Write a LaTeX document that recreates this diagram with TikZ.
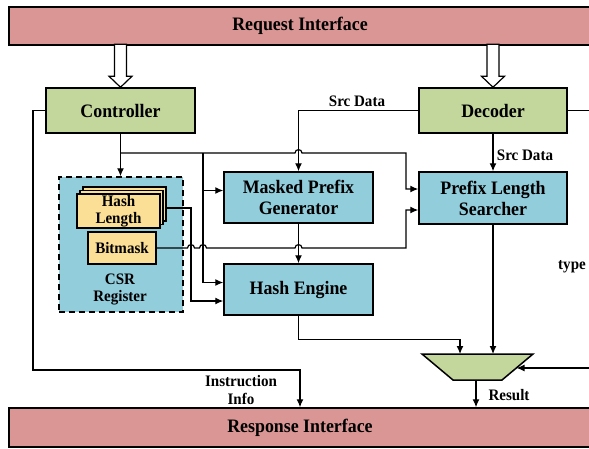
\documentclass[tikz,border=0pt]{standalone}
\usepackage{fontspec}
\setmainfont{Liberation Serif}[FakeStretch=0.94]
\usetikzlibrary{arrows.meta,calc}
\definecolor{ifpink}{HTML}{D99694}
\definecolor{ctlgreen}{HTML}{C3D69B}
\definecolor{unitblue}{HTML}{92CDDC}
\definecolor{regyellow}{HTML}{FBDF96}
\tikzset{
  bigtext/.style={font=\bfseries\fontsize{19}{21}\selectfont},
  smalltext/.style={font=\bfseries\fontsize{16}{17.5}\selectfont},
  block/.style={draw=black, line width=1.5pt, inner sep=0pt, align=center, bigtext},
  ifbar/.style={block, fill=ifpink, minimum width=582pt},
  ctlbox/.style={block, fill=ctlgreen, minimum width=149pt, minimum height=45pt},
  unitbox/.style={block, fill=unitblue, minimum width=149pt},
  regbox/.style={draw=black, line width=1.3pt, fill=regyellow, inner sep=0pt, align=center, smalltext},
  wire/.style={line width=1.2pt, line join=miter},
  conn/.style={wire, -{Latex[length=8pt,width=7pt]}},
  hollow/.style={draw=black, line width=1.2pt, fill=white, line join=miter},
  lbl/.style={smalltext, inner sep=0pt, align=center}
}
\begin{document}
\begin{tikzpicture}[x=1pt, y=-1pt]
\useasboundingbox (0,0) rectangle (589,448);

% interface bars
\node[ifbar, minimum height=38pt] (req) at (300,26) {Request Interface};
\node[ifbar, minimum height=39pt] (resp) at (300,427.5) {Response Interface};

% control blocks
\node[ctlbox] (ctrl) at (120.5,110.5) {Controller};
\node[ctlbox, minimum width=148pt] (dec) at (493,110.5) {Decoder};

% processing units
\node[unitbox, minimum height=51pt] (masked) at (298.5,197.5) {Masked Prefix\\Generator};
\node[unitbox, minimum width=148pt, minimum height=52pt] (pls) at (493,198) {Prefix Length\\Searcher};
\node[unitbox, minimum height=51pt] (hash) at (298.5,289.5) {Hash Engine};

% CSR register group
\node[draw=black, line width=1.5pt, dash pattern=on 6pt off 4pt, fill=unitblue,
      minimum width=124pt, minimum height=135pt, inner sep=0pt] (csr) at (121,244.5) {};
\node[lbl] (csrlbl) at (120,289.5) {CSR\\Register};
\node[regbox, minimum width=83pt, minimum height=34pt] (hlb) at (124.5,204) {};
\node[regbox, minimum width=83pt, minimum height=34pt] (hlm) at (121.5,207.5) {};
\node[regbox, minimum width=83pt, minimum height=34pt, font=\bfseries\fontsize{16}{17}\selectfont] (hl) at (118.5,211) {Hash\\Length};
\node[regbox, minimum width=68pt, minimum height=32pt] (bm) at (122,248) {Bitmask};

% hollow request arrows
\draw[hollow] (ctrl.north) -- ++(-11.5,-11) -- ++(5.5,0) -- ++(0,-32) -- ++(12,0)
  -- ++(0,32) -- ++(5.5,0) -- cycle;
\draw[hollow] (dec.north) -- ++(-11.5,-11) -- ++(5.5,0) -- ++(0,-32) -- ++(12,0)
  -- ++(0,32) -- ++(5.5,0) -- cycle;

% output mux
\coordinate (muxTL) at (422,354);
\coordinate (muxTR) at (533,354);
\coordinate (muxBR) at (502,380);
\coordinate (muxBL) at (453,380);
\draw[line width=1.5pt, fill=ctlgreen, line join=miter] (muxTL) -- (muxTR) -- (muxBR) -- (muxBL) -- cycle;
\coordinate (muxin1) at (460,354);
\coordinate (muxR) at (516.5,368);
\coordinate (typein) at (600,368);
\coordinate (muxout) at (476,380);

% controller fan-out
\coordinate (bus) at (120.5,153);
\coordinate (busA) at (203,153);
\draw[conn] (ctrl.south) -- (ctrl.south |- csr.north);
\draw[conn] (bus) -- (295,153) .. controls (295,148.5) and (302,148.5) .. (302,153)
  -- (406,153) |- ($(pls.west)+(0,-9)$);
\draw[conn] (busA) |- ($(masked.west)+(0,-7)$);
\draw[conn] (busA) |- ($(hash.west)+(0,-7)$);

% register outputs
\coordinate (hlout) at (166,208);
\draw[conn] (hlout) -- (191,208) |- ($(hash.west)+(0,11.5)$);
\draw[conn] (bm.east) -- (187.5,248) .. controls (187.5,243.5) and (194.5,243.5) .. (194.5,248)
  -- (199.5,248) .. controls (199.5,243.5) and (206.5,243.5) .. (206.5,248)
  -- (295,248) .. controls (295,243.5) and (302,243.5) .. (302,248)
  -- (406,248) |- ($(pls.west)+(0,12)$);

% decoder outputs
\draw[conn] (dec.west) -| (masked.north);
\draw[conn] (dec.south) -- (pls.north);
\draw[wire] (dec.east) -- ++(30,0);
\draw[conn] (masked.south) -- (hash.north);

% to the mux and the response interface
\draw[conn] (hash.south) -- ++(0,24) -| (muxin1);
\draw[conn] (pls.south) -- (pls.south |- muxTL);
\draw[conn] (typein) -- (muxR);
\draw[conn] (muxout) -- (muxout |- resp.north);
\coordinate (instrbend) at (33,370);
\draw[conn] (ctrl.west) -| (instrbend) -| (resp.north);

% labels
\node[lbl] (srctop) at (357,101) {Src Data};
\node[lbl] (srcside) at (525,155) {Src Data};
\node[lbl] (typelbl) at (572,267) {type};
\node[lbl, font=\bfseries\fontsize{16}{18}\selectfont] (instrlbl) at (241,390) {Instruction\\Info};
\node[lbl] (reslbl) at (509,395) {Result};
\end{tikzpicture}
\end{document}
